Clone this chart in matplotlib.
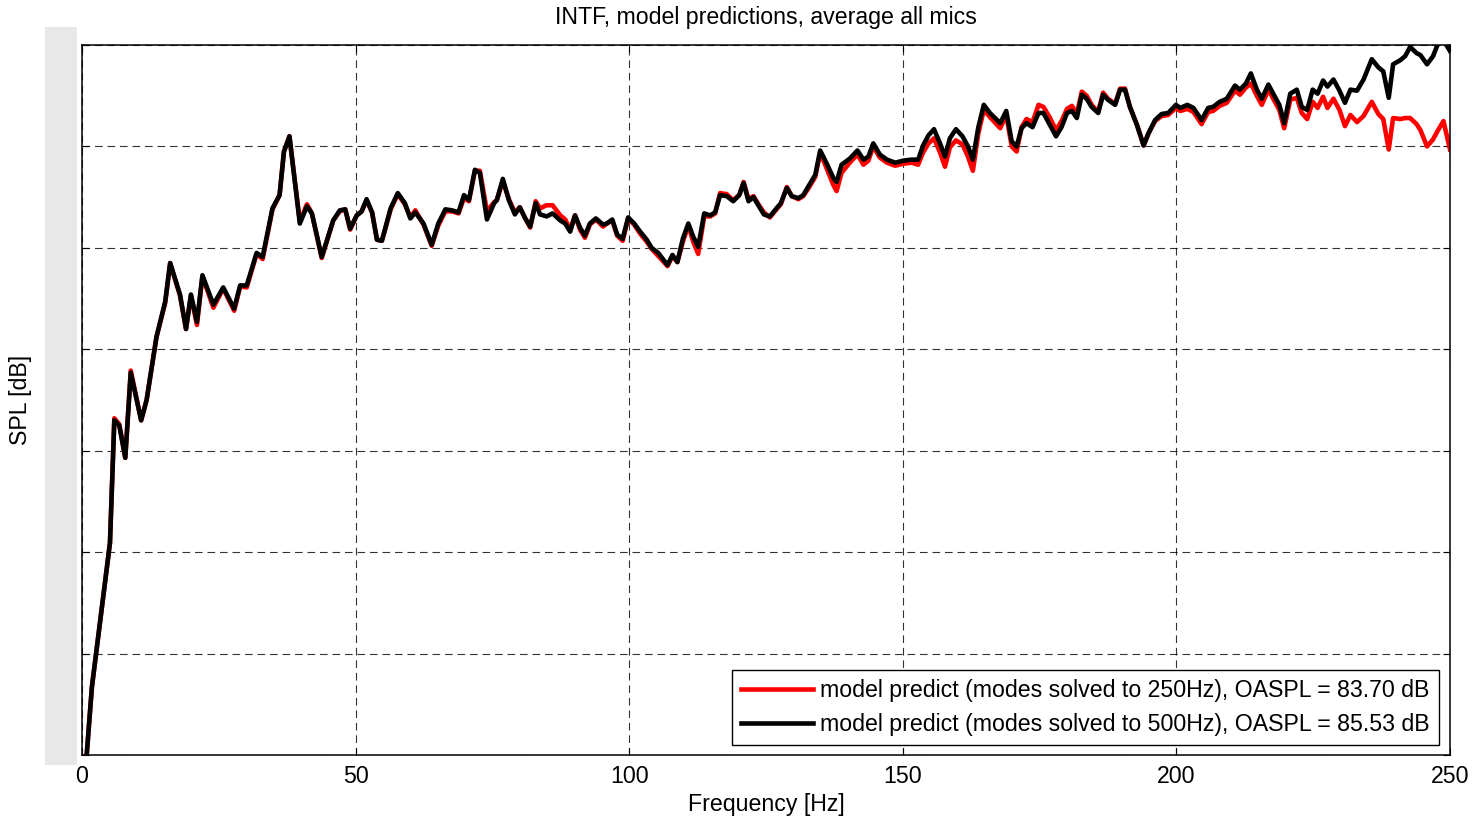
import matplotlib
matplotlib.use("Agg")
import matplotlib.pyplot as plt
from matplotlib.patches import Rectangle

plt.rcParams['font.family'] = ['Liberation Sans', 'DejaVu Sans']
plt.rcParams['lines.scale_dashes'] = False

# frequency [Hz]
freq = [0.85, 1.8, 5.1, 5.9, 6.8, 7.9, 8.9, 10.8, 11.8, 13.6,
        15.2, 16.1, 17.9, 19.0, 19.9, 21.0, 22.0, 24.0, 25.8, 27.8,
        28.9, 30.1, 31.9, 33.0, 34.8, 36.1, 36.9, 37.9, 39.8, 41.1,
        42.0, 43.8, 45.9, 47.1, 48.1, 49.0, 50.2, 51.1, 52.0, 53.0,
        53.9, 54.8, 56.4, 57.7, 59.0, 60.0, 60.9, 62.4, 63.9, 65.1,
        66.4, 67.6, 68.8, 69.8, 70.7, 71.8, 72.7, 74.0, 75.3, 75.8,
        76.9, 78.0, 79.1, 80.0, 81.0, 81.9, 82.9, 83.7, 84.9, 86.0,
        87.4, 88.3, 89.2, 90.1, 91.0, 91.9, 92.8, 93.9, 95.2, 95.9,
        96.9, 97.8, 98.8, 99.8, 100.9, 102.0, 103.2, 104.1, 105.3, 107.0,
        107.9, 108.8, 109.8, 110.8, 111.7, 112.6, 113.7, 114.8, 115.7, 116.6,
        117.8, 119.0, 120.1, 120.9, 121.8, 122.7, 123.6, 124.6, 125.7, 126.6,
        127.7, 128.8, 129.7, 130.9, 131.8, 132.9, 134.0, 134.9, 136.1, 137.3,
        137.9, 138.8, 140.3, 141.7, 142.8, 143.7, 144.6, 145.8, 147.1, 148.6,
        150.1, 151.6, 152.8, 153.7, 154.7, 155.7, 156.8, 157.7, 158.6, 159.7,
        160.9, 161.9, 162.8, 163.8, 164.8, 165.9, 167.8, 168.9, 169.9, 170.8,
        171.7, 172.6, 173.7, 174.8, 175.7, 176.9, 178.0, 179.0, 180.0, 180.9,
        181.8, 182.7, 183.6, 184.5, 185.7, 186.6, 187.5, 188.8, 189.7, 190.6,
        191.5, 192.8, 194.0, 194.9, 196.1, 197.3, 198.5, 199.9, 200.7, 202.0,
        203.1, 204.6, 205.8, 206.7, 207.9, 209.2, 210.7, 211.6, 212.7, 213.6,
        214.7, 215.6, 216.8, 218.0, 218.8, 219.7, 220.8, 222.0, 222.9, 223.9,
        224.9, 225.8, 226.8, 227.6, 228.7, 229.8, 230.8, 231.8, 233.0, 234.2,
        235.7, 236.9, 237.8, 238.8, 239.6, 240.9, 241.8, 242.7, 243.9, 244.6,
        245.8, 246.9, 247.7, 248.8, 250.0]

# modes solved to 500Hz (black)
spl_500 = [20.0, 26.7, 40.9, 53.0, 52.5, 49.3, 57.7, 53.0, 55.0, 61.2,
           64.7, 68.5, 65.4, 62.0, 65.4, 62.7, 67.3, 64.4, 66.1, 64.0,
           66.3, 66.3, 69.5, 69.1, 73.9, 75.2, 79.5, 81.0, 72.4, 74.1,
           73.4, 69.1, 72.7, 73.7, 73.8, 71.9, 73.2, 73.6, 74.8, 73.5,
           70.8, 70.7, 73.9, 75.4, 74.4, 72.9, 73.5, 72.4, 70.3, 72.4,
           73.8, 73.7, 73.5, 75.2, 74.7, 77.7, 77.4, 72.8, 74.4, 74.7,
           76.8, 74.7, 73.3, 74.0, 72.9, 72.1, 74.4, 73.3, 73.1, 73.4,
           72.7, 72.4, 71.6, 73.2, 72.0, 71.2, 72.4, 72.9, 72.3, 72.4,
           72.8, 71.3, 70.9, 73.0, 72.4, 71.6, 70.8, 70.0, 69.5, 68.3,
           69.3, 68.6, 70.9, 72.4, 71.1, 70.1, 73.4, 73.2, 73.5, 75.2,
           75.1, 74.6, 75.2, 76.4, 74.6, 75.0, 74.2, 73.3, 73.1, 73.7,
           74.4, 75.9, 75.1, 74.9, 75.2, 76.2, 77.2, 79.6, 78.3, 76.9,
           76.5, 78.2, 78.8, 79.6, 78.7, 79.0, 80.3, 79.2, 78.7, 78.4,
           78.6, 78.7, 78.7, 80.1, 81.1, 81.7, 80.3, 79.0, 80.8, 81.7,
           81.0, 80.0, 78.7, 81.9, 84.1, 83.3, 82.3, 83.5, 80.5, 80.0,
           81.8, 82.3, 81.9, 83.3, 83.3, 82.1, 81.0, 81.9, 83.3, 83.5,
           82.8, 85.1, 84.7, 83.9, 83.3, 85.1, 84.6, 84.1, 85.6, 85.6,
           83.9, 82.1, 80.1, 81.3, 82.6, 83.2, 83.3, 84.1, 83.8, 84.1,
           83.8, 82.6, 83.8, 83.9, 84.4, 84.7, 86.0, 85.6, 86.2, 87.2,
           85.6, 84.7, 86.1, 84.9, 84.1, 82.3, 85.2, 85.6, 83.9, 83.6,
           85.6, 85.2, 86.5, 85.9, 86.6, 85.5, 84.3, 85.6, 85.5, 86.6,
           88.6, 87.8, 87.4, 84.8, 88.1, 88.5, 88.9, 89.8, 89.2, 89.0,
           88.1, 88.9, 90.0, 90.5, 89.4]

# modes solved to 250Hz (red)
spl_250 = [20.0, 26.7, 40.9, 53.2, 52.6, 49.3, 57.9, 53.0, 55.0, 61.2,
           64.6, 68.5, 65.3, 62.0, 65.3, 62.4, 67.2, 64.1, 66.0, 63.8,
           66.2, 66.1, 69.4, 68.9, 73.8, 75.2, 79.5, 81.0, 72.6, 74.3,
           73.4, 69.0, 72.7, 73.6, 73.8, 71.8, 73.2, 73.6, 74.7, 73.5,
           70.8, 70.7, 73.8, 75.3, 74.3, 73.0, 73.7, 72.3, 70.2, 72.2,
           73.6, 73.6, 73.4, 74.9, 74.6, 77.6, 77.6, 73.6, 74.5, 74.7,
           76.6, 74.8, 73.5, 74.0, 72.9, 72.0, 74.6, 73.9, 74.2, 74.2,
           73.2, 72.8, 71.8, 73.2, 71.8, 71.0, 72.3, 72.8, 72.1, 72.4,
           72.7, 71.2, 70.7, 72.9, 72.3, 71.4, 70.6, 69.9, 69.2, 68.2,
           69.2, 68.6, 70.6, 72.2, 70.6, 69.4, 73.1, 73.1, 73.4, 75.4,
           75.3, 74.7, 75.2, 76.5, 74.8, 75.1, 74.3, 73.5, 73.0, 73.6,
           74.3, 76.0, 75.1, 74.8, 75.1, 76.0, 77.0, 79.4, 77.8, 76.2,
           75.6, 77.4, 78.4, 79.2, 78.2, 78.6, 80.0, 78.9, 78.4, 78.1,
           78.3, 78.4, 78.2, 79.4, 80.3, 80.8, 79.4, 78.0, 79.9, 80.6,
           80.2, 79.0, 77.6, 81.3, 83.6, 82.9, 81.8, 83.1, 80.0, 79.5,
           81.9, 82.7, 82.4, 84.1, 83.9, 82.8, 81.6, 82.5, 83.7, 84.0,
           83.2, 85.4, 85.0, 84.1, 83.4, 85.3, 84.7, 84.2, 85.7, 85.7,
           83.9, 82.1, 80.1, 81.3, 82.5, 83.0, 83.1, 83.8, 83.5, 83.7,
           83.4, 82.2, 83.4, 83.5, 84.0, 84.3, 85.5, 85.1, 85.8, 86.2,
           85.0, 84.1, 85.6, 84.4, 83.6, 81.8, 84.6, 84.8, 83.3, 82.7,
           84.4, 83.8, 84.9, 83.8, 84.7, 83.6, 82.0, 83.1, 82.4, 83.0,
           84.4, 83.2, 82.7, 79.7, 82.8, 82.7, 82.8, 82.8, 82.2, 81.6,
           80.0, 80.7, 81.5, 82.5, 79.7]

label_250 = 'model predict (modes solved to 250Hz), OASPL = 83.70 dB'
label_500 = 'model predict (modes solved to 500Hz), OASPL = 85.53 dB'

fs = 16.7

fig = plt.figure(figsize=(14.73, 8.17), dpi=100)
ax = fig.add_axes([0.0557, 0.0759, 0.9287, 0.8690])

ax.plot(freq, spl_250, color='#ff0000', lw=3.3, label=label_250)
ax.plot(freq, spl_500, color='k', lw=3.3, label=label_500)

ax.set_xlim(0, 250)
ax.set_ylim(20, 90)
ax.set_xticks([0, 50, 100, 150, 200, 250])
ax.set_yticks(range(20, 91, 10))
ax.set_yticklabels([])
ax.tick_params(direction='in', top=True, right=True, labelsize=fs, length=5, pad=7)
ax.grid(True, color='k', lw=0.8, linestyle=(0, (5.5, 3.5)), alpha=0.8)
for s in ax.spines.values():
    s.set_linewidth(1.1)

ax.set_title('INTF, model predictions, average all mics', fontsize=fs, pad=15)
ax.set_xlabel('Frequency [Hz]', fontsize=fs, labelpad=4)
ax.set_ylabel('SPL [dB]', fontsize=fs)
ax.yaxis.set_label_coords(-0.0365, 0.5)

leg = ax.legend(loc='lower right', bbox_to_anchor=(0.992, 0.014), borderaxespad=0,
                fontsize=fs, fancybox=False, edgecolor='k', framealpha=1,
                handlelength=3.1, handletextpad=0.3, labelspacing=0.45, borderpad=0.4)
leg.get_frame().set_linewidth(1.0)

# grey strip where the y tick labels sit
fig.patches.append(Rectangle((0.0305, 0.0636), 0.0217, 0.9033, transform=fig.transFigure,
                             facecolor='#e8e8e8', edgecolor='none', zorder=0))

fig.savefig('out.png', dpi=100)
